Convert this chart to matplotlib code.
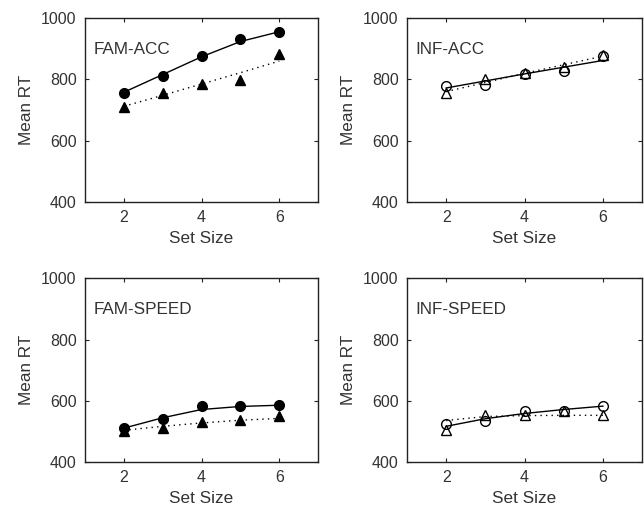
import matplotlib
matplotlib.use("Agg")
import matplotlib.pyplot as plt

plt.rcParams['font.family'] = ['Liberation Sans', 'DejaVu Sans']

set_size = [2, 3, 4, 5, 6]

# FAM-ACC
fam_acc_circ = [757, 812, 877, 933, 954]
fam_acc_tri = [711, 754, 786, 799, 884]
fam_acc_fit_solid = [758, 816, 874, 924, 956]
fam_acc_fit_dot = [712, 748, 785, 822, 860]

# INF-ACC
inf_acc_circ = [779, 783, 818, 826, 877]
inf_acc_tri = [755, 802, 821, 842, 880]
inf_acc_fit_solid = [772, 795, 818, 840, 862]
inf_acc_fit_dot = [760, 790, 820, 848, 876]

# FAM-SPEED
fam_sp_circ = [511, 541, 584, 584, 585]
fam_sp_tri = [502, 511, 529, 538, 551]
fam_sp_fit_solid = [510, 544, 571, 581, 585]
fam_sp_fit_dot = [503, 516, 527, 536, 542]

# INF-SPEED
inf_sp_circ = [524, 534, 565, 567, 584]
inf_sp_tri = [505, 554, 552, 567, 554]
inf_sp_fit_solid = [516, 541, 558, 571, 582]
inf_sp_fit_dot = [535, 548, 551, 552, 552]

titles = ["FAM-ACC", "INF-ACC", "FAM-SPEED", "INF-SPEED"]
yticks = [400, 600, 800, 1000]
xticks = [2, 4, 6]

fig = plt.figure(figsize=(6.44, 5.08), dpi=100)
positions = [
    [0.132, 0.603, 0.362, 0.361],
    [0.632, 0.603, 0.365, 0.361],
    [0.132, 0.091, 0.362, 0.361],
    [0.632, 0.091, 0.365, 0.361],
]
panels = [
    (fam_acc_circ, fam_acc_tri, fam_acc_fit_solid, fam_acc_fit_dot, True),
    (inf_acc_circ, inf_acc_tri, inf_acc_fit_solid, inf_acc_fit_dot, False),
    (fam_sp_circ, fam_sp_tri, fam_sp_fit_solid, fam_sp_fit_dot, True),
    (inf_sp_circ, inf_sp_tri, inf_sp_fit_solid, inf_sp_fit_dot, False),
]

for pos, title, (circ, tri, fs, fd, filled) in zip(positions, titles, panels):
    ax = fig.add_axes(pos)
    ax.plot(set_size, fs, color='black', lw=1.0, ls='-', zorder=2)
    ax.plot(set_size, fd, color='black', lw=1.0, ls=(0, (1, 3)), zorder=2)
    fc = 'black' if filled else 'none'
    ax.plot(set_size, circ, ls='none', marker='o', ms=7, mfc=fc, mec='black', mew=1.0, zorder=3)
    ax.plot(set_size, tri, ls='none', marker='^', ms=6.5, mfc=fc, mec='black', mew=1.0, zorder=3)
    ax.set_xlim(1, 7)
    ax.set_ylim(400, 1000)
    ax.set_xticks(xticks)
    ax.set_yticks(yticks)
    ax.tick_params(direction='in', length=3, width=0.8, top=True, right=True,
                   labelsize=11.5, pad=6, colors='#222222', labelcolor='#333333')
    for s in ax.spines.values():
        s.set_linewidth(1.0)
        s.set_color('#222222')
    ax.set_xlabel("Set Size", fontsize=12.3, labelpad=4, color='#333333')
    ax.set_ylabel("Mean RT", fontsize=12.3, labelpad=5, color='#333333')
    ax.text(0.035, 0.805, title, transform=ax.transAxes, fontsize=12.3,
            ha='left', va='baseline', color='#333333')

fig.savefig("out.png", dpi=100)
